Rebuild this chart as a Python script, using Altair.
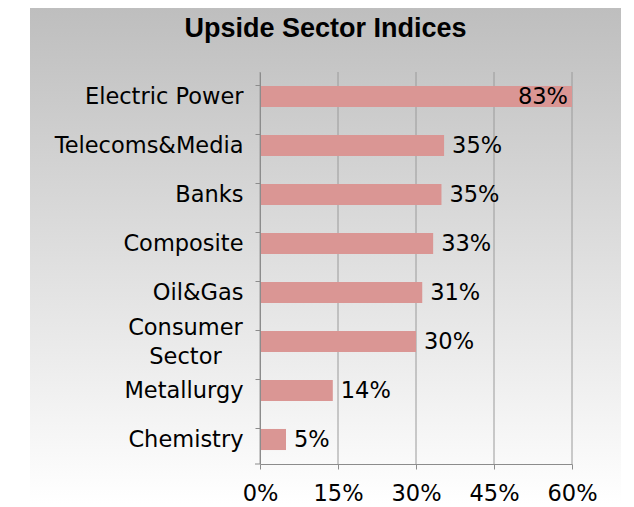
import altair as alt
import pandas as pd

# ---- data ----
sectors = ["Electric Power", "Telecoms&Media", "Banks", "Composite",
           "Oil&Gas", "Consumer Sector", "Metallurgy", "Chemistry"]
upside = [0.83, 0.354, 0.349, 0.333, 0.312, 0.30, 0.14, 0.05]
x_ticks = [0.0, 0.15, 0.30, 0.45, 0.60]
title_text = ["Upside Sector Indices"]

df = pd.DataFrame({"sector": sectors, "upside": upside})
grid_df = pd.DataFrame({"v": x_ticks})
one = pd.DataFrame({"t": title_text})

# ---- layout ----
W, H = 312, 392
PL, PT = 252, 64
SVG_W, SVG_H = 618, 496
FONT = "DejaVu Sans"
FS = 22.5
AXIS_GREY = "#8C8C8C"

xscale = alt.Scale(domain=[0, 0.6], clamp=True, nice=False, zero=True)
yscale = alt.Scale(domain=sectors, paddingInner=0.57, paddingOuter=0.285)

is_cs = "datum.value == 'Consumer Sector'"
ylabel_expr = is_cs + " ? ['Consumer', 'Sector'] : datum.label"

background = alt.Chart(one).mark_rect(
    color=alt.Gradient(
        gradient="linear",
        stops=[alt.GradientStop(color="#BEBEBE", offset=0),
               alt.GradientStop(color="#FFFFFF", offset=1)],
        x1=0, x2=0, y1=0, y2=1),
).encode(
    x=alt.value(30 - 260), x2=alt.value(621 - 260),
    y=alt.value(-PT), y2=alt.value(SVG_H - PT),
)

title = alt.Chart(one).mark_text(
    font="Liberation Sans", fontWeight="bold", fontSize=27,
    align="center", baseline="alphabetic", color="black",
).encode(x=alt.value(325.5 - 260), y=alt.value(37 - 72), text="t:N")

grid = alt.Chart(grid_df).mark_rule(color="#9A9A9A", strokeWidth=1).encode(
    x=alt.X("v:Q", scale=xscale), y=alt.value(0), y2=alt.value(H)
)

extra_tick = alt.Chart(one).mark_rule(color=AXIS_GREY, strokeWidth=1).encode(
    x=alt.value(-5), x2=alt.value(0), y=alt.value(H)
)

bars = alt.Chart(df).mark_bar(color="#DA9694").encode(
    x=alt.X("upside:Q", scale=xscale,
            axis=alt.Axis(values=x_ticks, format=".0%", title=None, grid=False,
                          domainColor=AXIS_GREY, tickColor=AXIS_GREY, tickSize=5,
                          labelFont=FONT, labelFontSize=FS, labelColor="black",
                          labelPadding=13, labelFlush=False, zindex=1)),
    y=alt.Y("sector:N", scale=yscale, sort=sectors,
            axis=alt.Axis(title=None, grid=False, bandPosition=0,
                          domainColor=AXIS_GREY, tickColor=AXIS_GREY, tickSize=5,
                          labelFont=FONT, labelFontSize=FS, labelColor="black",
                          labelAlign={"condition": {"test": is_cs, "value": "center"},
                                      "value": "right"},
                          labelPadding={"condition": {"test": is_cs, "value": 70},
                                        "value": 12},
                          labelBaseline="middle",
                          labelLineHeight=29, labelExpr=ylabel_expr,
                          labelOffset={"condition": {"test": is_cs, "value": -14},
                                       "value": 0},
                          labelLimit=300, zindex=1)),
)

labels_out = alt.Chart(df).transform_filter("datum.upside <= 0.6").mark_text(
    align="left", baseline="middle", dx=8, font=FONT, fontSize=FS, color="black"
).encode(
    x=alt.X("upside:Q", scale=xscale),
    y=alt.Y("sector:N", scale=yscale, sort=sectors),
    text=alt.Text("upside:Q", format=".0%"),
)

labels_in = alt.Chart(df).transform_filter("datum.upside > 0.6").mark_text(
    align="right", baseline="middle", dx=-4, font=FONT, fontSize=FS, color="black"
).encode(
    x=alt.X("upside:Q", scale=xscale),
    y=alt.Y("sector:N", scale=yscale, sort=sectors),
    text=alt.Text("upside:Q", format=".0%"),
)

chart = alt.layer(background, title, grid, extra_tick, bars, labels_out, labels_in).properties(
    width=W, height=H,
    autosize=alt.AutoSizeParams(type="none"),
    padding={"left": PL, "top": PT, "right": SVG_W - PL - W, "bottom": SVG_H - PT - H},
    background="#FFFFFF",
).configure_view(stroke=None)

chart.save("out.html", embed_options={"renderer": "svg", "actions": False})
